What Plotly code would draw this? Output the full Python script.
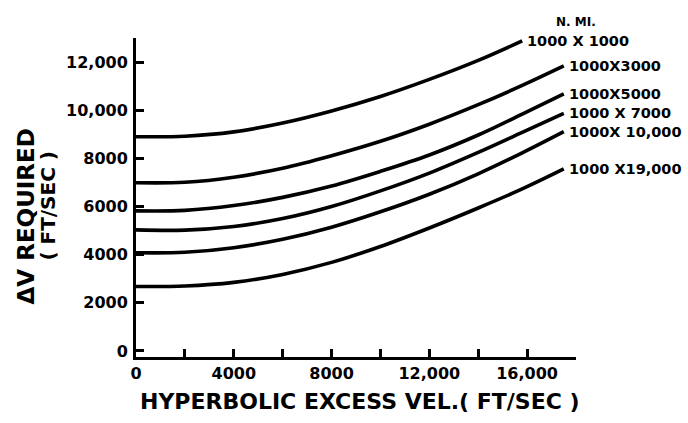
import plotly.graph_objects as go

# Hyperbolic excess velocity (ft/sec)
x_main = [0, 2000, 4000, 6000, 8000, 10000, 12000, 14000, 15800, 17500]
x_top = [0, 2000, 4000, 6000, 8000, 10000, 12000, 14000, 15800]

# Delta-V required (ft/sec) for each orbit pair (N. MI.)
dv_1000x1000 = [8900, 8920, 9100, 9470, 9970, 10570, 11280, 12070, 12880]
dv_1000x3000 = [6990, 7010, 7220, 7590, 8110, 8710, 9420, 10230, 11030, 11840]
dv_1000x5000 = [5820, 5840, 6040, 6380, 6850, 7460, 8140, 8970, 9840, 10680]
dv_1000x7000 = [5030, 5020, 5170, 5500, 6000, 6650, 7390, 8250, 9080, 9870]
dv_1000x10000 = [4080, 4100, 4290, 4640, 5140, 5780, 6510, 7360, 8230, 9110]
dv_1000x19000 = [2680, 2700, 2850, 3180, 3680, 4340, 5110, 5940, 6730, 7560]

series_labels = ["1000 X 1000", "1000X3000", "1000X5000",
                 "1000 X 7000", "1000X 10,000", "1000 X19,000"]
series_x = [x_top, x_main, x_main, x_main, x_main, x_main]
series_y = [dv_1000x1000, dv_1000x3000, dv_1000x5000,
            dv_1000x7000, dv_1000x10000, dv_1000x19000]

x_tickvals = [0, 2000, 4000, 6000, 8000, 10000, 12000, 14000, 16000, 18000]
x_ticktext = ["0", "", "4000", "", "8000", "", "12,000", "", "16,000", ""]
y_tickvals = [0, 2000, 4000, 6000, 8000, 10000, 12000]
y_ticktext = ["0", "2000", "4000", "6000", "8000", "10,000", "12,000"]

FONT = "DejaVu Sans"

fig = go.Figure()
for name, xs, ys in zip(series_labels, series_x, series_y):
    fig.add_trace(go.Scatter(
        x=xs, y=ys, mode="lines", name=name,
        line=dict(color="black", width=3.6, shape="spline", smoothing=1.0),
        cliponaxis=False, showlegend=False,
    ))
    fig.add_annotation(
        x=xs[-1], y=ys[-1], xref="x", yref="y", text=name,
        showarrow=False, xanchor="left", yanchor="middle", xshift=3,
        font=dict(family=FONT, size=14.5, color="black", weight="bold"),
    )

fig.add_annotation(
    x=1.0, y=1.05, xref="paper", yref="paper", text="N. MI.",
    showarrow=False, xanchor="center", yanchor="middle",
    font=dict(family=FONT, size=12, color="black", weight="bold"),
)

# Axis titles
fig.add_annotation(
    x=-0.249, y=0.442, xref="paper", yref="paper", text="ΔV REQUIRED",
    showarrow=False, textangle=-90, xanchor="center", yanchor="middle",
    font=dict(family=FONT, size=23, color="black", weight="bold"),
)
fig.add_annotation(
    x=-0.199, y=0.476, xref="paper", yref="paper", text="( FT/SEC )",
    showarrow=False, textangle=-90, xanchor="center", yanchor="middle",
    font=dict(family=FONT, size=20, color="black", weight="bold"),
)
fig.add_annotation(
    x=0.51, y=-0.138, xref="paper", yref="paper",
    text="HYPERBOLIC EXCESS VEL.( FT/SEC )",
    showarrow=False, xanchor="center", yanchor="middle",
    font=dict(family=FONT, size=22, color="black", weight="bold"),
)

axis_common = dict(
    showgrid=False, zeroline=False, showline=True, linecolor="black",
    linewidth=3, ticks="inside", ticklen=8, tickwidth=2.5, tickcolor="black",
    tickfont=dict(family=FONT, size=16, color="black", weight="bold"),
)

fig.update_xaxes(range=[0, 18000], tickmode="array", tickvals=x_tickvals,
                 ticktext=x_ticktext, **axis_common)
fig.update_yaxes(range=[-250, 13000], tickmode="array", tickvals=y_tickvals,
                 ticktext=y_ticktext, ticklabelstandoff=2, **axis_common)

fig.update_layout(
    width=688, height=423,
    margin=dict(l=136, r=112, t=38, b=66),
    paper_bgcolor="white", plot_bgcolor="white",
    font=dict(family=FONT, color="black"),
)

fig.write_html("out.html")
